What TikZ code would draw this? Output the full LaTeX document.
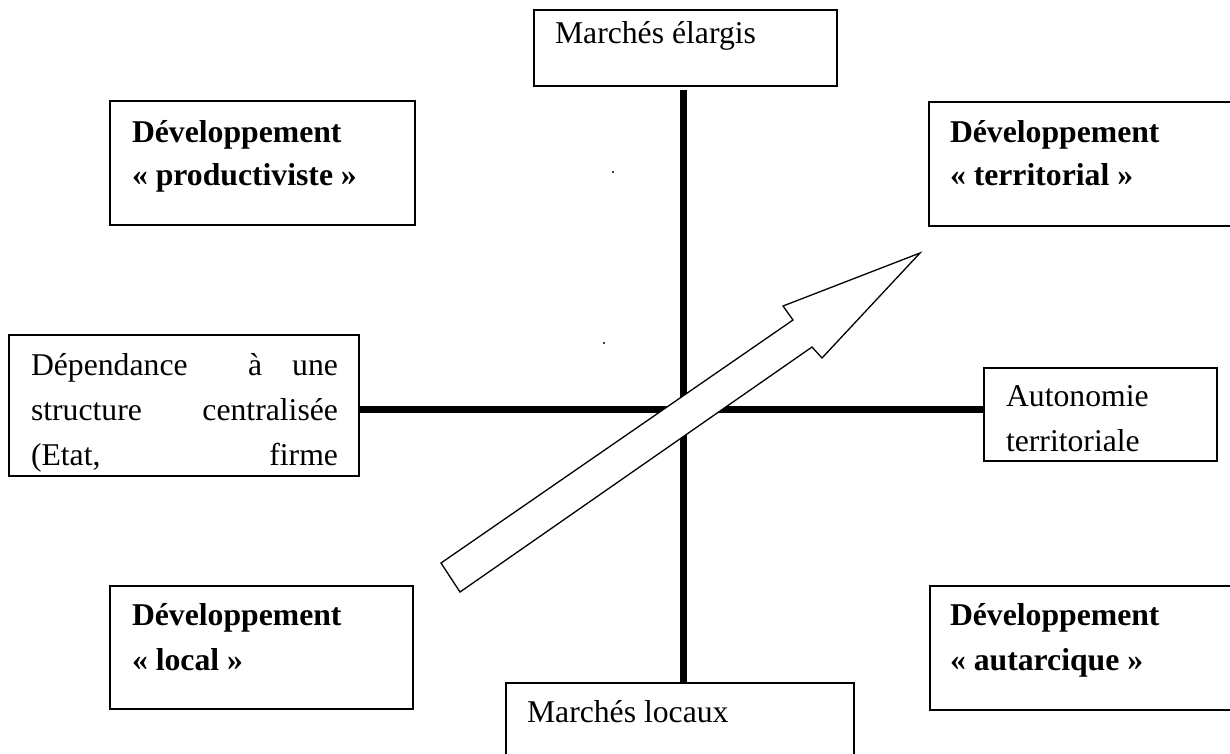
\documentclass[tikz,border=0pt]{standalone}
\usepackage{fontspec}
\setmainfont{Liberation Serif}
\begin{document}
\begin{tikzpicture}[x=1pt,y=-1pt,
  box/.style={draw, line width=1.3pt, fill=white, rectangle, anchor=north west, inner sep=0pt, outer sep=0pt},
  axisline/.style={line width=7pt},
  txt/.style={inner sep=0pt, outer sep=0pt, font=\fontsize{31.7}{40}\selectfont},
  btxt/.style={inner sep=0pt, outer sep=0pt, font=\fontsize{31.7}{40}\selectfont\bfseries},
  bigarrow/.style={draw, fill=white, line width=1.3pt, line join=miter, miter limit=20}]
\useasboundingbox (0,0) rectangle (1230,753);
\clip (0,0) rectangle (1230,753);
% boxes
\node[box, minimum width=305pt, minimum height=124pt] (tl) at (110,101) {};
\node[box, minimum width=316pt, minimum height=124pt] (tr) at (929,102) {};
\node[box, minimum width=303pt, minimum height=123pt] (bl) at (110,586) {};
\node[box, minimum width=315pt, minimum height=124pt] (br) at (930,586) {};
\node[box, minimum width=303pt, minimum height=76pt] (top) at (534,10) {};
\node[box, minimum width=348pt, minimum height=90pt] (bot) at (506,683) {};
\node[box, minimum width=350pt, minimum height=141pt] (lft) at (9,335) {};
\node[box, minimum width=233pt, minimum height=93pt] (rgt) at (984,368) {};
% axes
\coordinate (vtop) at (683,90);
\coordinate (hl) at (359,409);
\draw[axisline] (vtop) -- (vtop |- bot.north);
\draw[axisline] (hl) -- (hl -| rgt.west);
% texts
\node[txt, anchor=base west] (t1) at (555,43) {Marchés élargis};
\node[txt, anchor=base west] (t2) at (527,722) {Marchés locaux};
\node[btxt, anchor=base west] (tl1) at (132,142) {Développement};
\node[btxt, anchor=base west] (tl2) at (132,185) {« productiviste »};
\node[btxt, anchor=base west] (tr1) at (950,142) {Développement};
\node[btxt, anchor=base west] (tr2) at (950,185) {« territorial »};
\node[btxt, anchor=base west] (bl1) at (132,625) {Développement};
\node[btxt, anchor=base west] (bl2) at (132,670) {« local »};
\node[btxt, anchor=base west] (br1) at (950,625) {Développement};
\node[btxt, anchor=base west] (br2) at (950,670) {« autarcique »};
\node[txt, anchor=base west] (l1a) at (31,375) {Dépendance};
\node[txt, anchor=base west] (l1b) at (248,375) {à};
\node[txt, anchor=base east] (l1c) at (338,375) {une};
\node[txt, anchor=base west] (l2a) at (31,420) {structure};
\node[txt, anchor=base east] (l2b) at (338,420) {centralisée};
\node[txt, anchor=base west] (l3a) at (31,465) {(Etat,};
\node[txt, anchor=base east] (l3b) at (338,465) {firme};
\node[txt, anchor=base west] (r1) at (1006,406) {Autonomie};
\begin{scope}
  \clip (990,420) rectangle (1210,451);
  \node[txt, anchor=base west] (r2) at (1006,451) {territoriale};
\end{scope}
% stray dots
\fill (613,172) circle[radius=1.2pt];
\fill (604,343) circle[radius=1.2pt];
% big arrow
\draw[bigarrow] (441,563) -- (793,320) -- (783,306) -- (920,253) -- (822,358) -- (812,347) -- (460,592) -- cycle;
\end{tikzpicture}
\end{document}
